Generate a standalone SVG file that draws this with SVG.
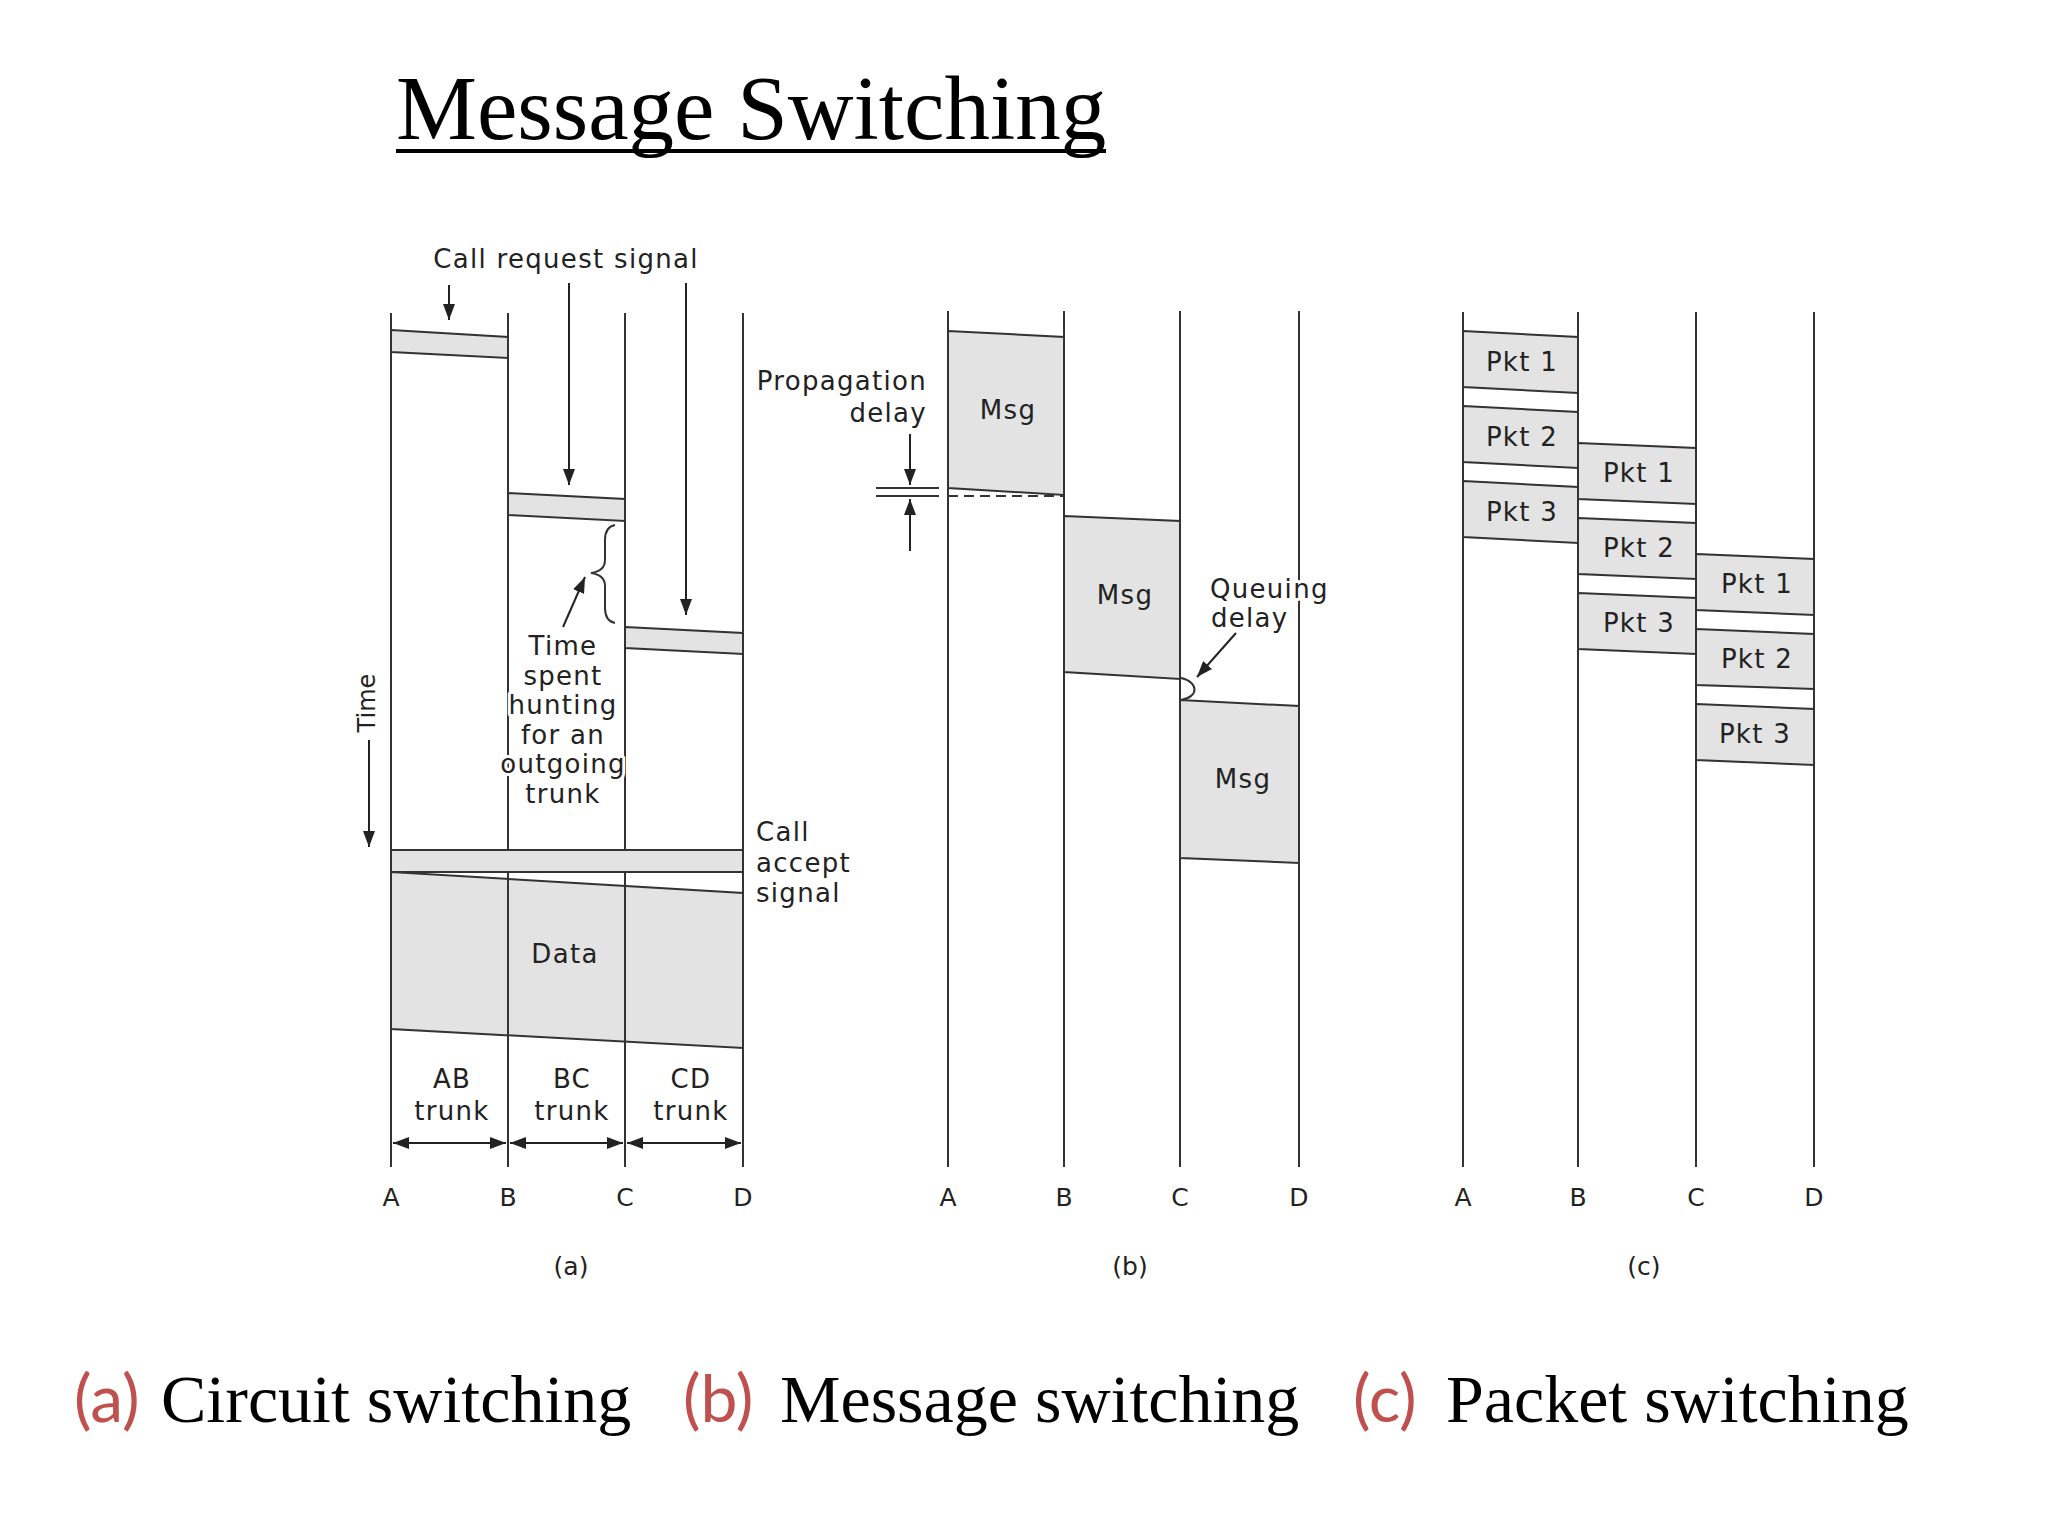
<svg xmlns="http://www.w3.org/2000/svg" width="2048" height="1536" viewBox="0 0 2048 1536">
<style>
.ln{stroke:#333;stroke-width:2;fill:none}
.box{fill:#e3e3e3;stroke:#333;stroke-width:2;stroke-linejoin:miter}
.t{font-family:"DejaVu Sans",sans-serif;font-size:26px;fill:#222;letter-spacing:1.3px}
.m{text-anchor:middle}
.e{text-anchor:end}
.halo{stroke:#fff;stroke-width:6px;paint-order:stroke;stroke-linejoin:round}
.ax{font-family:"DejaVu Sans",sans-serif;font-size:25px;fill:#222;text-anchor:middle}
.cap{font-family:"Liberation Serif","Times New Roman",serif;font-size:68px;fill:#000}
.red{font-family:Lato,"Liberation Sans",sans-serif;font-size:66px;fill:#C0504D}
.arr{stroke:#222;stroke-width:2;fill:none}
</style>
<defs>
<marker id="ah" viewBox="0 0 16 12" refX="16" refY="6" markerWidth="16" markerHeight="12" markerUnits="userSpaceOnUse" orient="auto-start-reverse">
<path d="M0,0 L16,6 L0,12 z" fill="#222"/>
</marker>
</defs>
<rect width="2048" height="1536" fill="#fff"/>

<g id="title">
<text x="396" y="139" font-family="Liberation Serif,'Times New Roman',serif" font-size="91" fill="#000">Message Switching</text>
<rect x="396" y="149" width="710" height="4" fill="#000"/>
</g>

<!-- Panel (a) -->
<g id="panel-a-lines">
<line class="ln" x1="391" y1="313" x2="391" y2="1167"/>
<line class="ln" x1="508" y1="313" x2="508" y2="1167"/>
<line class="ln" x1="625" y1="313" x2="625" y2="1167"/>
<line class="ln" x1="743" y1="313" x2="743" y2="1167"/>
</g>
<g id="a-call-request-ab"><polygon class="box" points="391,330 508,337 508,358 391,352"/></g>
<g id="a-call-request-bc"><polygon class="box" points="508,493 625,499 625,521 508,515"/></g>
<g id="a-call-request-cd"><polygon class="box" points="625,627 743,633 743,654 625,648"/></g>
<g id="a-call-accept"><rect class="box" x="391" y="850" width="352" height="22"/></g>
<g id="a-data">
<polygon class="box" points="391,872 743,893 743,1048 391,1029"/>
<line class="ln" x1="508" y1="879" x2="508" y2="1036"/>
<line class="ln" x1="625" y1="886" x2="625" y2="1042"/>
<text class="t m" x="565" y="963">Data</text>
</g>
<g id="a-labels">
<text class="t m" x="566" y="268">Call request signal</text>
<text class="t m halo" x="563" y="655">Time</text>
<text class="t m halo" x="563" y="685">spent</text>
<text class="t m halo" x="563" y="714">hunting</text>
<text class="t m halo" x="563" y="744">for an</text>
<text class="t m halo" x="563" y="773">outgoing</text>
<text class="t m halo" x="563" y="803">trunk</text>
<text class="t" x="756" y="841">Call</text>
<text class="t" x="756" y="872">accept</text>
<text class="t" x="756" y="902">signal</text>
<text font-family="DejaVu Sans,sans-serif" font-size="24" fill="#222" text-anchor="middle" x="366" y="712" transform="rotate(-90 366 703)">Time</text>
<text class="t m" x="452" y="1088">AB</text>
<text class="t m" x="452" y="1120">trunk</text>
<text class="t m" x="572" y="1088">BC</text>
<text class="t m" x="572" y="1120">trunk</text>
<text class="t m" x="691" y="1088">CD</text>
<text class="t m" x="691" y="1120">trunk</text>
<text class="ax" x="391" y="1206">A</text>
<text class="ax" x="508" y="1206">B</text>
<text class="ax" x="625" y="1206">C</text>
<text class="ax" x="743" y="1206">D</text>
<text class="ax" x="571" y="1275">(a)</text>
</g>

<!-- Panel (b) -->
<g id="panel-b-lines">
<line class="ln" x1="948" y1="311" x2="948" y2="1167"/>
<line class="ln" x1="1064" y1="311" x2="1064" y2="1167"/>
<line class="ln" x1="1180" y1="311" x2="1180" y2="1167"/>
<line class="ln" x1="1299" y1="311" x2="1299" y2="1167"/>
</g>
<g id="b-msg-ab">
<polygon class="box" points="948,331 1064,337 1064,495 948,488"/>
<text class="t m" x="1008" y="419" font-size="27">Msg</text>
</g>
<g id="b-msg-bc">
<polygon class="box" points="1064,516 1180,521 1180,679 1064,672"/>
<text class="t m" x="1125" y="604" font-size="27">Msg</text>
</g>
<g id="b-msg-cd">
<polygon class="box" points="1180,700 1299,706 1299,863 1180,858"/>
<text class="t m" x="1243" y="788" font-size="27">Msg</text>
</g>
<g id="b-prop-delay">
<line class="ln" x1="948" y1="496" x2="1064" y2="496" stroke-dasharray="10 6"/>
<line class="ln" x1="876" y1="488" x2="939" y2="488"/>
<line class="ln" x1="876" y1="496" x2="939" y2="496"/>
<text class="t e" x="927" y="390">Propagation</text>
<text class="t e" x="927" y="422">delay</text>
</g>
<g id="b-queue-delay">
<path class="ln" d="M1181,678 C1199,682 1199,697 1181,700"/>
<text class="t halo" x="1210" y="598">Queuing</text>
<text class="t halo" x="1211" y="627">delay</text>
</g>
<g id="b-labels">
<text class="ax" x="948" y="1206">A</text>
<text class="ax" x="1064" y="1206">B</text>
<text class="ax" x="1180" y="1206">C</text>
<text class="ax" x="1299" y="1206">D</text>
<text class="ax" x="1130" y="1275">(b)</text>
</g>

<!-- Panel (c) -->
<g id="panel-c-lines">
<line class="ln" x1="1463" y1="312" x2="1463" y2="1167"/>
<line class="ln" x1="1578" y1="312" x2="1578" y2="1167"/>
<line class="ln" x1="1696" y1="312" x2="1696" y2="1167"/>
<line class="ln" x1="1814" y1="312" x2="1814" y2="1167"/>
</g>
<g id="c-ab-pkt1"><polygon class="box" points="1463,331 1578,337 1578,393 1463,387"/><text class="t m" x="1522" y="371">Pkt 1</text></g>
<g id="c-ab-pkt2"><polygon class="box" points="1463,406 1578,412 1578,468 1463,462"/><text class="t m" x="1522" y="446">Pkt 2</text></g>
<g id="c-ab-pkt3"><polygon class="box" points="1463,481 1578,487 1578,543 1463,537"/><text class="t m" x="1522" y="521">Pkt 3</text></g>
<g id="c-bc-pkt1"><polygon class="box" points="1578,443 1696,448 1696,504 1578,499"/><text class="t m" x="1639" y="482">Pkt 1</text></g>
<g id="c-bc-pkt2"><polygon class="box" points="1578,518 1696,523 1696,579 1578,574"/><text class="t m" x="1639" y="557">Pkt 2</text></g>
<g id="c-bc-pkt3"><polygon class="box" points="1578,593 1696,598 1696,654 1578,649"/><text class="t m" x="1639" y="632">Pkt 3</text></g>
<g id="c-cd-pkt1"><polygon class="box" points="1696,554 1814,559 1814,615 1696,610"/><text class="t m" x="1757" y="593">Pkt 1</text></g>
<g id="c-cd-pkt2"><polygon class="box" points="1696,629 1814,634 1814,689 1696,685"/><text class="t m" x="1757" y="668">Pkt 2</text></g>
<g id="c-cd-pkt3"><polygon class="box" points="1696,704 1814,709 1814,765 1696,760"/><text class="t m" x="1755" y="743">Pkt 3</text></g>
<g id="c-labels">
<text class="ax" x="1463" y="1206">A</text>
<text class="ax" x="1578" y="1206">B</text>
<text class="ax" x="1696" y="1206">C</text>
<text class="ax" x="1814" y="1206">D</text>
<text class="ax" x="1644" y="1275">(c)</text>
</g>

<!-- Connectors -->
<g id="connectors">
<line class="arr" x1="449" y1="285" x2="449" y2="320" marker-end="url(#ah)"/>
<line class="arr" x1="569" y1="283" x2="569" y2="485" marker-end="url(#ah)"/>
<line class="arr" x1="686" y1="283" x2="686" y2="615" marker-end="url(#ah)"/>
<path class="ln" d="M615,525 Q605,527 605,540 L605,560 Q605,571 591,573 Q605,575 605,586 L605,608 Q605,621 615,623"/>
<line class="arr" x1="563" y1="627" x2="585" y2="577" marker-end="url(#ah)"/>
<line class="arr" x1="369" y1="740" x2="369" y2="847" marker-end="url(#ah)"/>
<line class="arr" stroke-width="2.5" x1="393" y1="1143" x2="506" y2="1143" marker-start="url(#ah)" marker-end="url(#ah)"/>
<line class="arr" stroke-width="2.5" x1="510" y1="1143" x2="623" y2="1143" marker-start="url(#ah)" marker-end="url(#ah)"/>
<line class="arr" stroke-width="2.5" x1="627" y1="1143" x2="741" y2="1143" marker-start="url(#ah)" marker-end="url(#ah)"/>
<line class="arr" x1="910" y1="434" x2="910" y2="485" marker-end="url(#ah)"/>
<line class="arr" x1="910" y1="551" x2="910" y2="499" marker-end="url(#ah)"/>
<line class="arr" x1="1236" y1="633" x2="1197" y2="677" marker-end="url(#ah)"/>
</g>

<g id="captions">
<text class="red" x="74" y="1422">(a)</text>
<text class="cap" x="161" y="1422">Circuit switching</text>
<text class="red" x="683" y="1422">(b)</text>
<text class="cap" x="780" y="1422">Message switching</text>
<text class="red" x="1353" y="1422">(c)</text>
<text class="cap" x="1446" y="1422">Packet switching</text>
</g>
</svg>
